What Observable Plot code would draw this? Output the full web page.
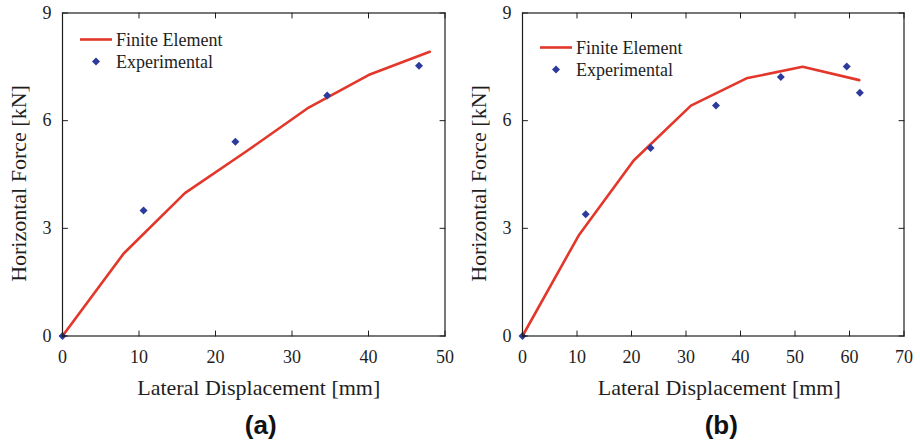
<!DOCTYPE html>
<html>
<head>
<meta charset="utf-8">
<script src="https://cdn.jsdelivr.net/npm/d3@7"></script>
<script src="https://cdn.jsdelivr.net/npm/@observablehq/plot@0.6"></script>
<style>
  html, body { margin: 0; padding: 0; background: #fff; }
  #wrap { display: flex; width: 920px; height: 442px; }
  #wrap > div { width: 460px; height: 442px; }
</style>
</head>
<body>
<div id="wrap"><div id="pa"></div><div id="pb"></div></div>
<script>
// ---- Data ----
const seriesNames = ["Finite Element", "Experimental"];
const yTicks = [0, 3, 6, 9];

// Panel (a)
const aTicksX = [0, 10, 20, 30, 40, 50];
const aFeX = [0, 8, 16, 24, 32, 40, 48];
const aFeY = [0, 2.30, 3.98, 5.14, 6.34, 7.27, 7.92];
const aExX = [0, 10.6, 22.6, 34.6, 46.6];
const aExY = [0, 3.50, 5.41, 6.70, 7.53];

// Panel (b)
const bTicksX = [0, 10, 20, 30, 40, 50, 60, 70];
const bFeX = [0, 10.3, 20.4, 30.9, 41.1, 51.4, 61.8];
const bFeY = [0, 2.80, 4.89, 6.42, 7.18, 7.50, 7.13];
const bExX = [0, 11.6, 23.5, 35.5, 47.4, 59.5, 61.9];
const bExY = [0, 3.39, 5.24, 6.42, 7.22, 7.51, 6.78];

const xLabel = "Lateral Displacement [mm]";
const yLabel = "Horizontal Force [kN]";

const RED = "#e2372a";
const BLUE = "#2b3a9c";
const INK = "#1e1e1e";
const SERIF = "'Liberation Serif', 'DejaVu Serif', serif";
const DOT_R = 3.6;
const TICK = 5;

// a straight tick drawn from the anchor point
const tickShape = {draw(ctx, l) { ctx.moveTo(0, 0); ctx.lineTo(0, -l); }};

function panel(el, {feX, feY, exX, exY, ticksX, marginRight, tag, legTop, labelDx}) {
  const fe = feX.map((x, i) => ({x, y: feY[i]}));
  const ex = exX.map((x, i) => ({x, y: exY[i]}));
  const xMax = ticksX[ticksX.length - 1];
  const tickOpts = {length: TICK, anchor: "start", shape: tickShape, stroke: INK, strokeWidth: 1};
  const chart = Plot.plot({
    width: 460,
    height: 442,
    marginLeft: 62,
    marginRight,
    marginTop: 12.5,
    marginBottom: 106.5,
    x: {domain: [0, xMax]},
    y: {domain: [0, 9]},
    style: {fontFamily: SERIF, fontSize: "18px", color: INK, background: "#fff", overflow: "visible"},
    marks: [
      Plot.line(fe, {x: "x", y: "y", stroke: RED, strokeWidth: 2.6}),
      Plot.dot(ex, {x: "x", y: "y", symbol: "diamond2", fill: BLUE, stroke: "none", r: DOT_R}),
      Plot.frame({stroke: INK, strokeWidth: 1.2}),
      // inward ticks on all four sides
      Plot.vector(ticksX, {x: d => d, frameAnchor: "bottom", rotate: 0, ...tickOpts}),
      Plot.vector(ticksX, {x: d => d, frameAnchor: "top", rotate: 180, ...tickOpts}),
      Plot.vector(yTicks, {y: d => d, frameAnchor: "left", rotate: 90, ...tickOpts}),
      Plot.vector(yTicks, {y: d => d, frameAnchor: "right", rotate: -90, ...tickOpts}),
      // tick labels
      Plot.axisX(ticksX, {anchor: "bottom", tickSize: 0, tickPadding: 14, label: null, fontSize: 18, fill: INK}),
      Plot.axisY(yTicks, {anchor: "left", tickSize: 0, tickPadding: 11, label: null, fontSize: 18, fill: INK}),
      // axis titles
      Plot.text([xLabel], {frameAnchor: "bottom", textAnchor: "middle", dx: labelDx, dy: 52, lineAnchor: "middle", fontSize: 22, fill: INK}),
      Plot.text([yLabel], {frameAnchor: "left", textAnchor: "middle", lineAnchor: "middle", dx: -44, dy: 9, rotate: -90, fontSize: 22, fill: INK}),
      // panel tag
      Plot.text([tag], {frameAnchor: "bottom", textAnchor: "middle", dx: labelDx + 2, dy: 90, lineAnchor: "middle", fontSize: 26,
        fontWeight: "bold", fontFamily: "'Liberation Sans', Arial, sans-serif", fill: "#111"})
    ]
  });

  // legend
  const svg = d3.select(chart);
  const g = svg.append("g").attr("font-family", SERIF).attr("font-size", 18)
    .attr("fill", INK).attr("text-anchor", "start");
  g.append("line").attr("x1", 80).attr("x2", 112).attr("y1", legTop).attr("y2", legTop)
    .attr("stroke", RED).attr("stroke-width", 2.6);
  g.append("text").attr("x", 116).attr("y", legTop).attr("dy", "0.34em").text(seriesNames[0]);
  g.append("path")
    .attr("d", d3.symbol(d3.symbolDiamond2, DOT_R * DOT_R * Math.PI)())
    .attr("transform", `translate(96,${legTop + 22})`).attr("fill", BLUE);
  g.append("text").attr("x", 116).attr("y", legTop + 22).attr("dy", "0.34em").text(seriesNames[1]);

  el.appendChild(chart);
}

panel(document.getElementById("pa"), {
  feX: aFeX, feY: aFeY, exX: aExX, exY: aExY, ticksX: aTicksX,
  marginRight: 15.5, tag: "(a)", legTop: 39.5, labelDx: 5
});
panel(document.getElementById("pb"), {
  feX: bFeX, feY: bFeY, exX: bExX, exY: bExY, ticksX: bTicksX,
  marginRight: 16.5, tag: "(b)", legTop: 47.5, labelDx: 6
});
</script>
</body>
</html>
